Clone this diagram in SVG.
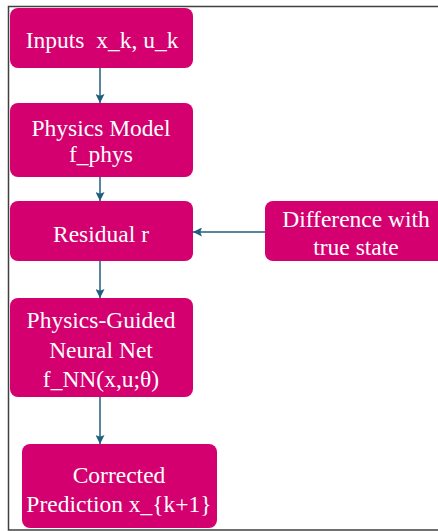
<svg xmlns="http://www.w3.org/2000/svg" width="438" height="531" viewBox="0 0 438 531">
<defs>
<style>
.box{fill:#D5006F;}
.t{font-family:"Liberation Serif","Times New Roman",serif;font-size:23.5px;fill:#ffffff;text-anchor:middle;}
.c{stroke:#1F5E7E;stroke-width:1.5;fill:none;marker-end:url(#ah);}
.frame{stroke:#404040;stroke-width:1.5;fill:none;}
</style>
<marker id="ah" viewBox="0 0 10 10" refX="10" refY="5" markerWidth="6" markerHeight="6" orient="auto" markerUnits="strokeWidth">
<path d="M0,0 L10,5 L0,10 L2,5 Z" fill="#1F5E7E"/>
</marker>
</defs>
<rect width="438" height="531" fill="#ffffff"/>
<path class="frame" d="M438,6.5 H8.5 V530 H438"/>
<g id="connectors">
<line class="c" x1="100" y1="68" x2="100" y2="103"/>
<line class="c" x1="100" y1="177" x2="100" y2="201"/>
<line class="c" x1="100" y1="261" x2="100" y2="298"/>
<line class="c" x1="100" y1="397" x2="100" y2="444"/>
<line class="c" x1="265" y1="232" x2="193" y2="232"/>
</g>
<g id="inputs">
<rect class="box" x="10" y="8" width="183" height="60" rx="8"/>
<text class="t" x="102" y="48" xml:space="preserve">Inputs  x_k, u_k</text>
</g>
<g id="physics">
<rect class="box" x="10" y="103" width="183" height="74" rx="8"/>
<text class="t" x="101" y="136">Physics Model</text>
<text class="t" x="101" y="162">f_phys</text>
</g>
<g id="residual">
<rect class="box" x="10" y="201" width="183" height="60" rx="8"/>
<text class="t" x="101" y="242">Residual r</text>
</g>
<g id="difference">
<rect class="box" x="265" y="201" width="182" height="60" rx="8"/>
<text class="t" x="356" y="227">Difference with</text>
<text class="t" x="356" y="255">true state</text>
</g>
<g id="pgnn">
<rect class="box" x="10" y="298" width="183" height="99" rx="8"/>
<text class="t" x="101" y="328">Physics-Guided</text>
<text class="t" x="101" y="358">Neural Net</text>
<text class="t" x="101" y="387">f_NN(x,u;θ)</text>
</g>
<g id="corrected">
<rect class="box" x="22" y="444" width="195" height="84" rx="8"/>
<text class="t" x="119" y="483">Corrected</text>
<text class="t" x="119" y="512">Prediction x_{k+1}</text>
</g>
</svg>
